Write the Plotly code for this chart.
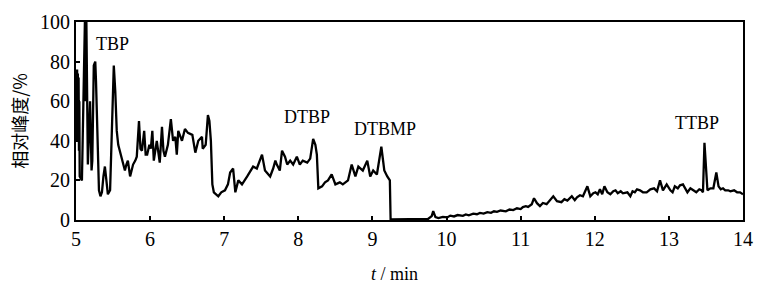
import plotly.graph_objects as go

# retention time (min) and relative abundance (%)
t_min = [5.00, 5.005, 5.01, 5.015, 5.02, 5.025, 5.03, 5.035, 5.04, 5.045, 5.05, 5.06, 5.08, 5.09,
         5.10, 5.12, 5.13, 5.14, 5.16, 5.18, 5.19, 5.21, 5.22, 5.24, 5.26, 5.27, 5.29, 5.31, 5.33,
         5.35, 5.37, 5.39, 5.41, 5.43, 5.46, 5.48, 5.51, 5.53, 5.55, 5.57, 5.59, 5.62, 5.66, 5.68,
         5.70, 5.73, 5.77, 5.80, 5.82, 5.85, 5.87, 5.89, 5.92, 5.94, 5.96, 5.99, 6.01, 6.03, 6.05,
         6.09, 6.13, 6.16, 6.18, 6.20, 6.24, 6.28, 6.31, 6.34, 6.36, 6.38, 6.43, 6.47, 6.51, 6.57,
         6.61, 6.65, 6.70, 6.71, 6.75, 6.78, 6.80, 6.82, 6.84, 6.86, 6.92, 6.96, 7.01, 7.05, 7.08,
         7.12, 7.15, 7.19, 7.24, 7.31, 7.39, 7.44, 7.51, 7.55, 7.62, 7.66, 7.69, 7.71, 7.75, 7.78,
         7.82, 7.85, 7.89, 7.93, 7.98, 8.02, 8.06, 8.12, 8.16, 8.20, 8.23, 8.25, 8.27, 8.32, 8.36,
         8.40, 8.45, 8.50, 8.56, 8.60, 8.67, 8.72, 8.77, 8.81, 8.87, 8.93, 8.97, 9.01, 9.06, 9.12,
         9.16, 9.20, 9.22, 9.235, 9.245, 9.50, 9.75, 9.80, 9.82, 9.85, 9.89, 9.95, 10.01, 10.05,
         10.10, 10.15, 10.22, 10.26, 10.30, 10.36, 10.41, 10.45, 10.50, 10.55, 10.60, 10.64, 10.68,
         10.73, 10.80, 10.85, 10.90, 10.95, 11.00, 11.03, 11.07, 11.10, 11.15, 11.18, 11.22, 11.26,
         11.30, 11.35, 11.40, 11.44, 11.49, 11.55, 11.59, 11.63, 11.69, 11.73, 11.76, 11.80, 11.84,
         11.90, 11.94, 11.98, 12.01, 12.04, 12.07, 12.10, 12.13, 12.17, 12.21, 12.25, 12.28, 12.31,
         12.35, 12.38, 12.44, 12.48, 12.51, 12.54, 12.57, 12.61, 12.65, 12.70, 12.75, 12.80, 12.84,
         12.88, 12.92, 12.97, 13.02, 13.05, 13.08, 13.12, 13.15, 13.19, 13.25, 13.29, 13.33, 13.37,
         13.41, 13.44, 13.46, 13.48, 13.52, 13.56, 13.60, 13.64, 13.67, 13.70, 13.73, 13.76, 13.80,
         13.83, 13.88, 13.92, 13.96, 14.00]
abundance = [40, 76, 40, 76, 42, 74, 40, 72, 35, 60, 22, 21, 20, 40,
             70, 100, 60, 100, 28, 55, 60, 25, 30, 78, 80, 70, 35, 15, 12,
             14, 22, 27, 20, 13, 15, 40, 78, 65, 45, 38, 35, 30, 25, 28,
             30, 22, 28, 30, 32, 50, 36, 35, 45, 33, 33, 38, 36, 45, 30,
             40, 29, 47, 35, 32, 38, 51, 40, 42, 33, 45, 40, 46, 44, 43,
             34, 40, 42, 36, 38, 53, 50, 40, 18, 14, 12, 14, 15, 18, 24,
             26, 14, 20, 18, 22, 27, 26, 33, 25, 22, 26, 30, 28, 25, 35,
             32, 28, 30, 28, 32, 28, 30, 29, 31, 41, 38, 33, 16, 17, 19,
             20, 23, 18, 19, 18, 20, 28, 22, 27, 25, 30, 22, 25, 23, 37,
             25, 22, 21, 20, 0.3, 0.3, 0.5, 2, 4.5, 1.5, 1, 1.6, 1.3, 2.2, 1.8,
             2.5, 2.1, 2.8, 2.4, 3.2, 2.9, 3.6, 3.2, 4.0, 3.6, 4.4, 4.1, 4.8,
             4.4, 5.3, 5.0, 5.9, 5.5, 6.5, 7, 6.6, 8, 11, 8.5, 7, 8.6,
             8, 10, 12, 9.5, 9, 10.5, 9.8, 12, 10, 11.5, 12.5, 12, 17,
             12, 13.5, 14, 13, 15.5, 13, 17, 14, 13, 14.5, 15, 13.5, 14.5,
             13.5, 14, 12, 14.5, 14, 15.5, 15, 14, 14, 15.5, 16, 14.5, 20,
             15, 18, 15, 14, 17, 16, 17.5, 18, 14, 16, 15, 14, 15.5,
             15, 14, 39, 15, 16, 16, 24, 17, 15.5, 16, 15, 15, 14.5,
             15, 14, 14, 13, 11]

peak_names = ["TBP", "DTBP", "DTBMP", "TTBP"]
peak_label_t = [5.49, 8.12, 9.17, 13.38]
peak_label_y = [89, 52, 46, 49]

x_ticks = [5, 6, 7, 8, 9, 10, 11, 12, 13, 14]
y_ticks = [0, 20, 40, 60, 80, 100]

serif = "Liberation Serif, Times New Roman, serif"

fig = go.Figure()
fig.add_trace(go.Scatter(x=t_min, y=abundance, mode="lines",
                         line=dict(color="black", width=2.3), showlegend=False,
                         hoverinfo="skip"))

for name, tx, ty in zip(peak_names, peak_label_t, peak_label_y):
    fig.add_annotation(x=tx, y=ty, text=name, showarrow=False,
                       font=dict(family=serif, size=18, color="black"))

# x-axis title (placed slightly left of centre, as in the original)
fig.add_annotation(xref="paper", yref="paper", x=0.478, y=-0.275,
                   xanchor="center", yanchor="middle", text="<i>t</i> / min",
                   showarrow=False, font=dict(family=serif, size=18, color="black"))

fig.update_layout(
    width=758, height=287,
    margin=dict(l=76, r=15, t=22, b=67),
    paper_bgcolor="white", plot_bgcolor="white",
    font=dict(family=serif, color="black"),
)
fig.update_xaxes(range=[5, 14], tickvals=x_ticks, ticks="inside", ticklen=4,
                 tickwidth=1.5, tickcolor="black", showline=True, linewidth=2,
                 linecolor="black", mirror=True, showgrid=False, zeroline=False,
                 automargin=False,
                 tickfont=dict(family=serif, size=20, color="black"))
fig.update_yaxes(range=[0, 100], tickvals=y_ticks, ticks="inside", ticklen=4,
                 tickwidth=1.5, tickcolor="black", showline=True, linewidth=2,
                 linecolor="black", mirror=True, showgrid=False, zeroline=False,
                 automargin=False,
                 tickfont=dict(family=serif, size=20, color="black"),
                 title=dict(text="相对峰度/%",
                            font=dict(family="Noto Sans CJK SC", size=18, color="black"),
                            standoff=8))

fig.write_html("out.html", config={"displayModeBar": False},
               post_script="document.body.style.margin='0';")
